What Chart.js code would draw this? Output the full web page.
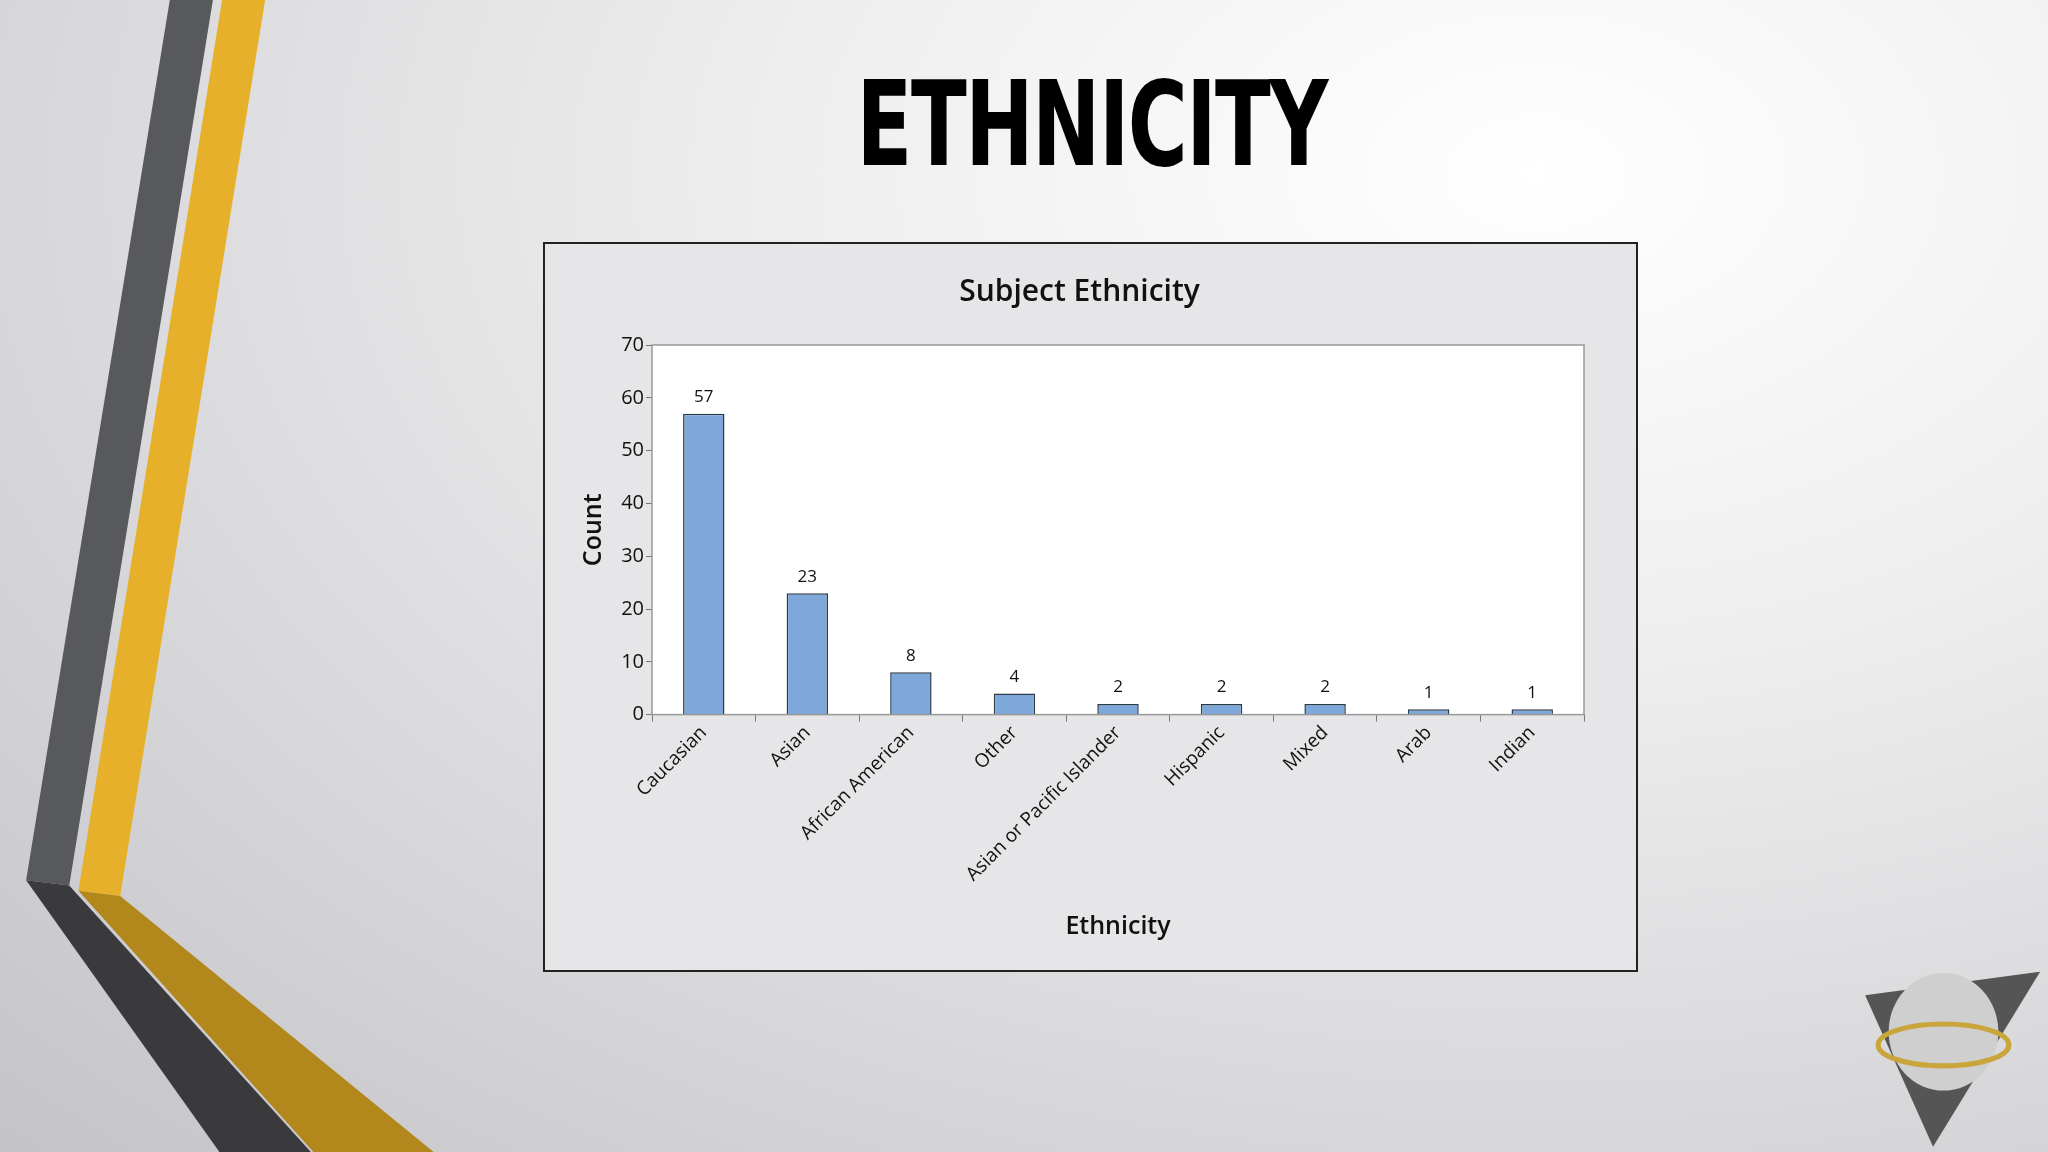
<!DOCTYPE html>
<html><head><meta charset="utf-8">
<script src="https://cdn.jsdelivr.net/npm/chart.js@4"></script>
<style>
html,body{margin:0;padding:0;width:2048px;height:1152px;overflow:hidden}
body{background:radial-gradient(ellipse at 75% 15%,#ffffff 0%,#eeeeef 35%,#d4d4d7 75%,#c4c4c8 100%);position:relative;font-family:"Open Sans",sans-serif}
#deco{position:absolute;left:0;top:0;width:2048px;height:1152px}
#h1{position:absolute;left:0;width:2184px;top:55px;text-align:center;font-family:"Liberation Sans Narrow","DejaVu Sans Condensed",sans-serif;font-weight:bold;font-size:118px;letter-spacing:-2px;color:#000;transform:scaleX(0.77);transform-origin:1091px 0}
#box{position:absolute;left:543px;top:242px;width:1095px;height:730px;background:#e6e6e8;border:2px solid #222;box-sizing:border-box}
</style></head><body>
<svg id="deco" viewBox="0 0 1568 882" preserveAspectRatio="none">
<polygon points="130,0 163,0 53,678 20,674" fill="#58595b"/>
<polygon points="20,674 53,678 238,882 168,882" fill="#3a3a3c"/>
<polygon points="170,0 203,0 92,686 60,682" fill="#e6b02a"/>
<polygon points="60,682 92,686 332,882 240,882" fill="#b2871c"/>
<polygon points="1428,762 1562,744 1480,878" fill="#555"/>
<ellipse cx="1488" cy="790" rx="42" ry="45" fill="#cfcfcf"/>
<ellipse cx="1488" cy="800" rx="50" ry="16" fill="none" stroke="#c9a53a" stroke-width="4"/>
</svg>
<div id="h1">ETHNICITY</div>
<div id="box"><canvas id="c" width="1091" height="726"></canvas></div>
<script>
const categories=["Caucasian","Asian","African American","Other","Asian or Pacific Islander","Hispanic","Mixed","Arab","Indian"];
const counts=[57,23,8,4,2,2,2,1,1];
const yTicks=[0,10,20,30,40,50,60,70];
const font="'Open Sans', sans-serif";
const labelPlugin={id:'lbl',afterDatasetsDraw(ch){const ctx=ch.ctx;const m=ch.getDatasetMeta(0);ctx.save();ctx.font="17px "+font;ctx.fillStyle="#111";ctx.textAlign="center";ctx.textBaseline="bottom";
m.data.forEach((b,i)=>ctx.fillText(counts[i],b.x,b.y-8));ctx.restore();}};
const bgPlugin={id:'bg',beforeDraw(ch){const a=ch.chartArea,ctx=ch.ctx;ctx.save();ctx.fillStyle="#fff";ctx.fillRect(a.left,a.top,a.right-a.left,a.bottom-a.top);ctx.restore();},
afterDraw(ch){const a=ch.chartArea,ctx=ch.ctx;ctx.save();ctx.strokeStyle="#999";ctx.lineWidth=1.5;ctx.strokeRect(a.left,a.top,a.right-a.left,a.bottom-a.top);ctx.restore();}};
new Chart(document.getElementById('c'),{type:'bar',
data:{labels:categories,datasets:[{data:counts,backgroundColor:"#7ea8da",borderColor:"#2d3a4a",borderWidth:1.5,barPercentage:0.4,categoryPercentage:1}]},
options:{responsive:false,animation:false,
layout:{padding:{top:20,right:52,left:30,bottom:24}},
plugins:{legend:{display:false},tooltip:{enabled:false},
title:{display:true,text:"Subject Ethnicity",color:"#111",font:{family:font,size:30,weight:'600'},padding:{top:10,bottom:35}}},
scales:{
x:{grid:{display:true,drawOnChartArea:false,tickLength:7,color:"#777"},border:{display:false},
ticks:{color:"#111",font:{family:font,size:19},minRotation:45,maxRotation:45,padding:0},
title:{display:true,text:"Ethnicity",color:"#111",font:{family:font,size:25,weight:'600'},padding:{top:26}}},
y:{min:0,max:70,afterBuildTicks(s){s.ticks=yTicks.map(v=>({value:v}));},afterFit(s){s.width=77;},
grid:{display:true,drawOnChartArea:false,tickLength:6,color:"#777"},border:{display:false},
ticks:{color:"#111",font:{family:font,size:20},padding:2},
title:{display:true,text:"Count",color:"#111",font:{family:font,size:25,weight:'600'},padding:{bottom:2}}}}},
plugins:[labelPlugin,bgPlugin]});
</script></body></html>
